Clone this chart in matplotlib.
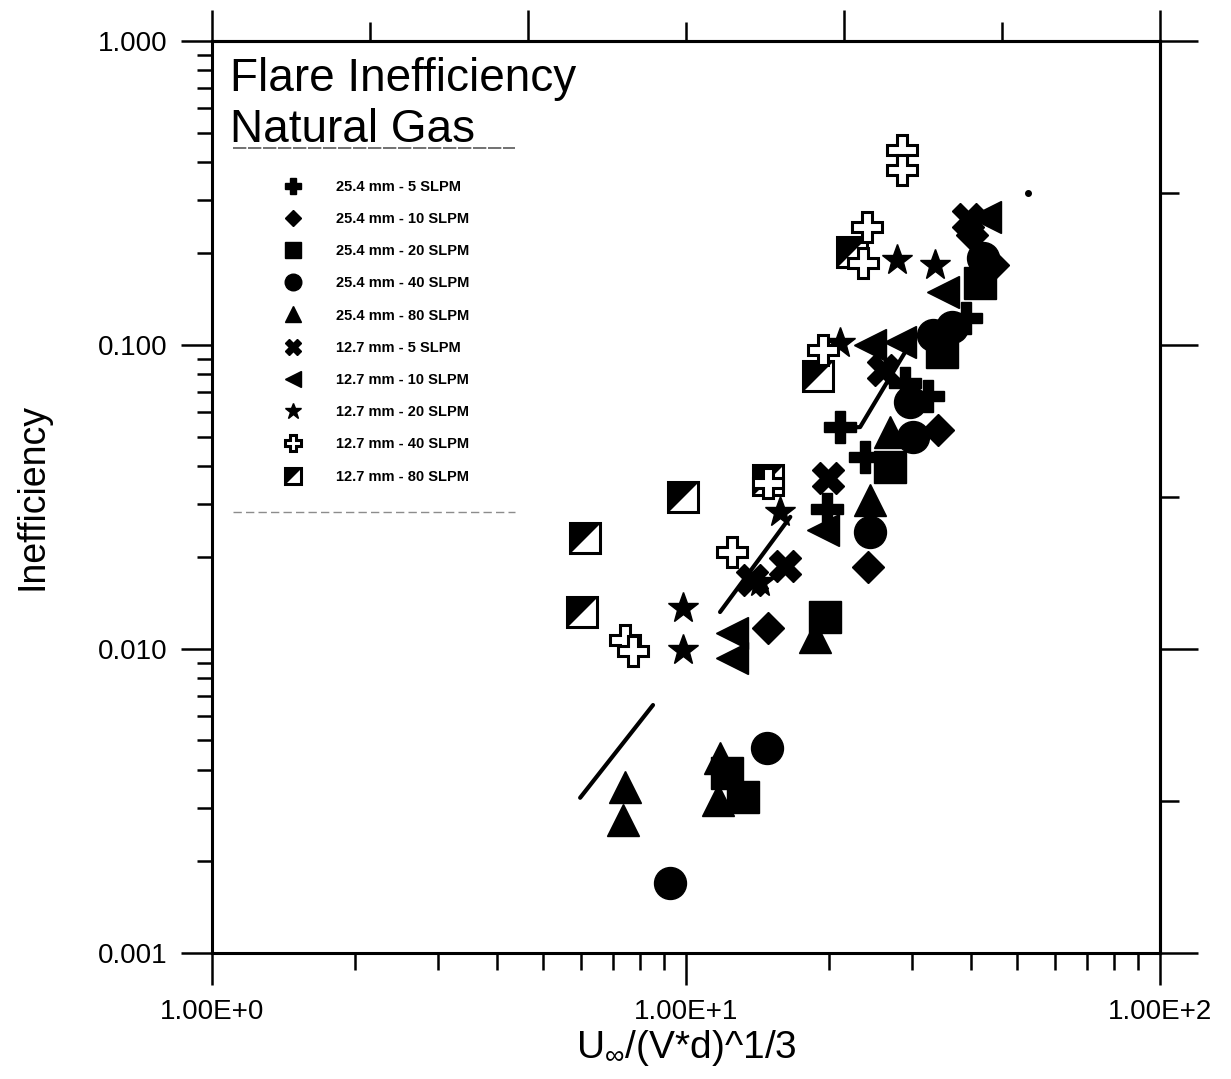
# -*- coding: utf-8 -*-
import matplotlib.pyplot as plt
import matplotlib as mpl
from matplotlib.ticker import FixedLocator, NullFormatter, FuncFormatter
from matplotlib.legend_handler import HandlerTuple

mpl.rcParams['font.family'] = ['Liberation Sans', 'DejaVu Sans']
mpl.rcParams['mathtext.fontset'] = 'custom'
mpl.rcParams['mathtext.rm'] = 'Liberation Sans'
mpl.rcParams['mathtext.it'] = 'Liberation Sans:italic'

labels = ['25.4 mm - 5 SLPM', '25.4 mm - 10 SLPM', '25.4 mm - 20 SLPM',
          '25.4 mm - 40 SLPM', '25.4 mm - 80 SLPM', '12.7 mm - 5 SLPM',
          '12.7 mm - 10 SLPM', '12.7 mm - 20 SLPM', '12.7 mm - 40 SLPM',
          '12.7 mm - 80 SLPM']

# U_inf/(V*d)^1/3 and inefficiency for each nozzle / flow case
u_254_5 = [21.1, 23.9, 19.8, 29.0, 32.4, 39.0]
eff_254_5 = [0.0537, 0.0428, 0.0289, 0.0750, 0.0680, 0.1227]

u_254_10 = [24.2, 14.9, 34.0, 44.4, 40.1]
eff_254_10 = [0.0186, 0.01173, 0.0525, 0.1833, 0.230]

u_254_20 = [19.6, 26.9, 12.2, 13.2, 34.7, 41.7]
eff_254_20 = [0.01274, 0.0397, 0.00391, 0.00326, 0.0948, 0.160]

u_254_40 = [9.25, 14.8, 24.4, 30.1, 29.7, 33.2, 36.4, 42.3]
eff_254_40 = [0.00170, 0.00472, 0.0243, 0.0498, 0.0649, 0.1079, 0.1146, 0.1932]

u_254_80 = [7.43, 7.36, 11.8, 11.7, 18.7, 24.4, 26.9]
eff_254_80 = [0.00352, 0.00274, 0.00438, 0.00319, 0.01095, 0.0309, 0.0517]

u_127_5 = [13.8, 16.2, 19.9, 26.0, 39.3]
eff_127_5 = [0.01687, 0.01875, 0.0365, 0.0828, 0.2597]

u_127_10 = [12.5, 12.5, 19.5, 24.4, 28.3, 34.8, 42.7]
eff_127_10 = [0.01129, 0.00934, 0.0246, 0.100, 0.1023, 0.1494, 0.2637]

u_127_20 = [9.86, 9.86, 15.8, 14.3, 21.1, 27.9, 33.5]
eff_127_20 = [0.01364, 0.00992, 0.0282, 0.01661, 0.1015, 0.1904, 0.1833]

u_127_40 = [7.43, 7.73, 12.5, 14.9, 19.5, 24.1, 23.6, 28.6, 28.6]
eff_127_40 = [0.01071, 0.00985, 0.02085, 0.0352, 0.0963, 0.2444, 0.1861,
              0.438, 0.3764]

u_127_80 = [6.12, 6.03, 9.86, 14.9, 19.0, 22.4]
eff_127_80 = [0.0232, 0.01323, 0.0316, 0.0360, 0.0791, 0.2022]

# fitted trend segments
fit1_u = [5.98, 8.52]
fit1_eff = [0.00324, 0.00654]
fit2_u = [11.8, 16.6]
fit2_eff = [0.01323, 0.0272]
fit3_u = [21.1, 23.3, 29.0]
fit3_eff = [0.0533, 0.0537, 0.0948]

dot_u = [52.7]
dot_eff = [0.316]

y_ticks = [0.001, 0.01, 0.1, 1.0]
y_ticklabels = ['0.001', '0.010', '0.100', '1.000']
x_ticks = [1, 10, 100]
x_ticklabels = ['1.00E+0', '1.00E+1', '1.00E+2']


def main():
    fig = plt.figure(figsize=(12.31, 10.79), dpi=100)
    ax = fig.add_axes([0.1722, 0.1168, 0.7701, 0.8452])
    ax.set_xscale('log')
    ax.set_yscale('log')
    ax.set_xlim(1, 100)
    ax.set_ylim(0.001, 1.0)

    for sp in ax.spines.values():
        sp.set_linewidth(2.2)

    # trend lines
    for fu, fe in [(fit1_u, fit1_eff), (fit2_u, fit2_eff), (fit3_u, fit3_eff)]:
        ax.plot(fu, fe, '-', color='black', lw=3, solid_capstyle='round', zorder=2)
    ax.plot(dot_u, dot_eff, 'o', color='black', ms=4, zorder=2)

    ms = 23
    kw = dict(ls='none', color='black', zorder=3)
    h = []
    h.append(ax.plot(u_254_5, eff_254_5, marker='P', ms=ms, **kw)[0])
    h.append(ax.plot(u_254_10, eff_254_10, marker='D', ms=16, **kw)[0])
    h.append(ax.plot(u_254_20, eff_254_20, marker='s', ms=ms, **kw)[0])
    h.append(ax.plot(u_254_40, eff_254_40, marker='o', ms=ms, **kw)[0])
    h.append(ax.plot(u_254_80, eff_254_80, marker='^', ms=ms, **kw)[0])
    h.append(ax.plot(u_127_5, eff_127_5, marker='X', ms=ms, **kw)[0])
    h.append(ax.plot(u_127_10, eff_127_10, marker='<', ms=ms, **kw)[0])
    h.append(ax.plot(u_127_20, eff_127_20, marker='*', ms=ms, **kw)[0])
    # half-filled squares: open box plus a black upper-left triangle
    sq = ax.plot(u_127_80, eff_127_80, ls='none', marker='s', ms=ms - 2,
                 mfc='white', mec='black', mew=2.2, zorder=3)[0]
    tri = ax.plot(u_127_80, eff_127_80, ls='none',
                  marker=[(-1, -1), (-1, 1), (1, 1)], ms=ms - 2,
                  mfc='black', mec='black', mew=1, zorder=3)[0]
    op = ax.plot(u_127_40, eff_127_40, ls='none', marker='P', ms=ms - 1,
                 mfc='white', mec='black', mew=2.2, zorder=4)[0]
    h.append(op)
    h.append((sq, tri))

    # bottom / left ticks
    ax.set_xticks(x_ticks)
    ax.set_xticklabels(x_ticklabels)
    ax.set_yticks(y_ticks)
    ax.yaxis.set_major_formatter(FuncFormatter(
        lambda v, p: y_ticklabels[y_ticks.index(min(y_ticks, key=lambda t: abs(t - v)))]))
    ax.xaxis.set_minor_formatter(NullFormatter())
    ax.yaxis.set_minor_formatter(NullFormatter())
    ax.tick_params(axis='x', which='major', direction='out', length=23, width=1.8,
                   labelsize=20, pad=10)
    ax.tick_params(axis='x', which='minor', direction='out', length=12, width=1.8)
    ax.tick_params(axis='y', which='major', direction='out', length=22, width=1.8,
                   labelsize=20, pad=10)
    ax.tick_params(axis='y', which='minor', direction='out', length=11, width=1.8)

    ident = (lambda v: v, lambda v: v)
    top = ax.secondary_xaxis('top', functions=ident)
    top.xaxis.set_major_locator(FixedLocator([1, 10 ** (2 / 3), 10 ** (4 / 3), 100]))
    top.xaxis.set_minor_locator(FixedLocator([10 ** (1 / 3), 10, 10 ** (5 / 3)]))
    top.xaxis.set_major_formatter(NullFormatter())
    top.xaxis.set_minor_formatter(NullFormatter())
    top.tick_params(which='major', direction='out', length=22, width=1.8)
    top.tick_params(which='minor', direction='out', length=14, width=1.8)
    top.spines['top'].set_linewidth(2.2)

    right = ax.secondary_yaxis('right', functions=ident)
    right.yaxis.set_major_locator(FixedLocator(y_ticks))
    right.yaxis.set_minor_locator(FixedLocator([10 ** -2.5, 10 ** -1.5, 10 ** -0.5]))
    right.yaxis.set_major_formatter(NullFormatter())
    right.yaxis.set_minor_formatter(NullFormatter())
    right.tick_params(which='major', direction='out', length=27, width=1.8)
    right.tick_params(which='minor', direction='out', length=14, width=1.8)
    right.spines['right'].set_linewidth(2.2)

    ax.set_xlabel(r'U$_{\infty}$/(V*d)^1/3', fontsize=28, labelpad=2)
    ax.set_ylabel('Inefficiency', fontsize=27, labelpad=34)

    ax.text(0.019, 0.982, 'Flare Inefficiency\nNatural Gas', transform=ax.transAxes,
            fontsize=33, va='top', ha='left', linespacing=1.2)
    # frame edges around the key
    ax.plot([0.022, 0.32], [0.8827, 0.8827], color='0.35', lw=1.2, ls=(0, (8, 1)),
            transform=ax.transAxes)
    ax.plot([0.022, 0.32], [0.4836, 0.4836], color='0.55', lw=1.0, ls=(0, (6, 3)),
            transform=ax.transAxes)

    ax.legend(h, labels, loc='upper left', bbox_to_anchor=(0.0696, 0.848),
              frameon=False, numpoints=1, markerscale=0.52,
              prop={'size': 10.5, 'weight': 'bold'}, handlelength=2.0,
              handletextpad=2.0, labelspacing=1.25, borderpad=0, borderaxespad=0,
              handler_map={tuple: HandlerTuple(ndivide=1)})

    plt.savefig('out.png', dpi=100)


if __name__ == "__main__":
    main()
